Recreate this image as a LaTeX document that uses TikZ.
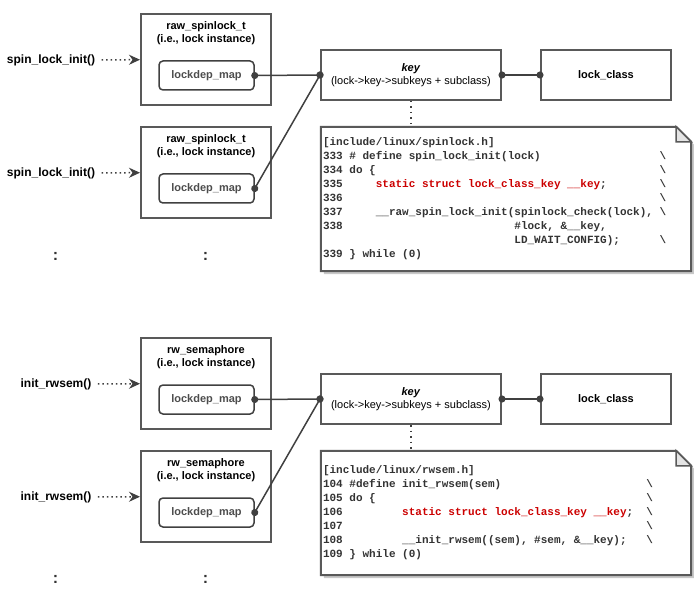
\documentclass[tikz,border=0pt]{standalone}
\usepackage{tikz}
\usetikzlibrary{arrows.meta}
\usetikzlibrary{calc}
\usetikzlibrary{backgrounds}
\usepackage{xcolor}
\usepackage{fontspec}
\setmainfont{Liberation Sans}
\newfontfamily\codefont{Liberation Mono}
\definecolor{boxgray}{RGB}{89,89,89}
\definecolor{linegray}{RGB}{64,64,64}
\definecolor{textgray}{RGB}{77,77,77}
\definecolor{codegray}{RGB}{51,51,51}
\definecolor{shadowgray}{RGB}{200,200,200}
\definecolor{foldgray}{RGB}{228,228,228}
\definecolor{keyred}{RGB}{204,0,0}
\newcommand{\blank}[1]{\hspace*{#1\fontcharwd\font`\x}}
\newcommand{\bs}{\textbackslash}
\newcommand{\hot}[1]{\textcolor{keyred}{#1}}
\newcommand{\fixspace}{\frenchspacing\spaceskip=\fontcharwd\font`\x\relax\xspaceskip=\spaceskip}

\begin{document}
\begin{tikzpicture}[x=1pt,y=-1pt,
	lockbox/.style={draw=boxgray,line width=2pt,minimum width=130pt,minimum height=91pt},
	title/.style={font=\fontsize{11}{13}\selectfont\bfseries,align=center,inner sep=0pt},
	mapbox/.style={draw=linegray,line width=1.5pt,rounded corners=4pt,minimum width=95pt,minimum height=29pt,text=textgray,font=\fontsize{11}{13}\selectfont\bfseries},
	keybox/.style={draw=boxgray,line width=2pt,minimum width=180pt,minimum height=50pt,align=center,font=\fontsize{11}{13}\selectfont},
	classbox/.style={draw=boxgray,line width=2pt,minimum width=130pt,minimum height=50pt,font=\fontsize{11}{13}\selectfont\bfseries},
	caller/.style={font=\fontsize{12}{14}\selectfont\bfseries},
	more/.style={font=\fontsize{16}{18}\selectfont\bfseries,text=codegray},
	codenote/.style={minimum width=370pt,minimum height=#1,text width=366pt,inner xsep=2pt,inner ysep=0pt,align=left,text=codegray,font=\codefont\fontsize{11}{14}\selectfont\bfseries},
	link/.style={linegray,line width=1.5pt,{Circle[length=7pt]}-{Circle[length=7pt]},shorten <=-3.5pt,shorten >=-3.5pt},
	calls/.style={linegray,line width=1.5pt,dash pattern=on 1.5pt off 3pt,shorten <=3pt,-{Stealth[length=11pt,width=10pt]}},
	refers/.style={linegray,line width=1.5pt,dash pattern=on 1.5pt off 4pt}]
	\useasboundingbox (0,0) rectangle (694,607);

	\node(init1) at (51,60)[caller]{spin\_lock\_init()};
	\node(lock1) at (206,59.5)[lockbox]{};
	\node(name1) at (206,33.5)[title]{raw\_spinlock\_t\\(i.e., lock instance)};
	\node(map1) at (206.5,75.5)[mapbox]{lockdep\_map};
	\node(init2) at (51,173)[caller]{spin\_lock\_init()};
	\node(lock2) at (206,172.5)[lockbox]{};
	\node(name2) at (206,146.5)[title]{raw\_spinlock\_t\\(i.e., lock instance)};
	\node(map2) at (206.5,188.5)[mapbox]{lockdep\_map};
	\node(more1) at (55.5,256)[more]{:};
	\node(more2) at (205.5,256)[more]{:};
	\node(key1) at (411,75)[keybox]{\textbf{\textit{key}}\\(lock->key->subkeys + subclass)};
	\node(class1) at (606,75)[classbox]{lock\_class};
	\node(note1) at (506,199)[codenote=144pt]{\fixspace[include/linux/spinlock.h]\\
		333 \# define spin\_lock\_init(lock)\blank{18}\bs\\
		334 do \{\blank{43}\bs\\
		335\blank{5}\hot{static struct lock\_class\_key \_\_key};\blank{8}\bs\\
		336\blank{48}\bs\\
		337\blank{5}\_\_raw\_spin\_lock\_init(spinlock\_check(lock),\blank{1}\bs\\
		338\blank{26}\#lock, \&\_\_key,\\
		\blank{29}LD\_WAIT\_CONFIG);\blank{6}\bs\\
		339 \} while (0)};

	\node(init3) at (56,384)[caller]{init\_rwsem()};
	\node(lock3) at (206,383.5)[lockbox]{};
	\node(name3) at (206,357.5)[title]{rw\_semaphore\\(i.e., lock instance)};
	\node(map3) at (206.5,399.5)[mapbox]{lockdep\_map};
	\node(init4) at (56,497)[caller]{init\_rwsem()};
	\node(lock4) at (206,496.5)[lockbox]{};
	\node(name4) at (206,470.5)[title]{rw\_semaphore\\(i.e., lock instance)};
	\node(map4) at (206.5,512.5)[mapbox]{lockdep\_map};
	\node(more3) at (55.5,579)[more]{:};
	\node(more4) at (205.5,579)[more]{:};
	\node(key2) at (411,399)[keybox]{\textbf{\textit{key}}\\(lock->key->subkeys + subclass)};
	\node(class2) at (606,399)[classbox]{lock\_class};
	\node(note2) at (506,513)[codenote=124pt]{\fixspace[include/linux/rwsem.h]\\
		104 \#define init\_rwsem(sem)\blank{22}\bs\\
		105 do \{\blank{41}\bs\\
		106\blank{9}\hot{static struct lock\_class\_key \_\_key};\blank{2}\bs\\
		107\blank{46}\bs\\
		108\blank{9}\_\_init\_rwsem((sem), \#sem, \&\_\_key);\blank{3}\bs\\
		109 \} while (0)};

	\begin{scope}[on background layer]
		\foreach \n in {note1,note2}{
			\fill[shadowgray] ($(\n.south west)+(3,3)$) -- ($(\n.north west)+(3,3)$) -- ($(\n.north east)+(-12,3)$) -- ($(\n.north east)+(3,18)$) -- ($(\n.south east)+(3,3)$) -- cycle;
			\draw[boxgray,line width=2pt,fill=white,line join=miter] (\n.south west) -- (\n.north west) -- ($(\n.north east)+(-15,0)$) -- ($(\n.north east)+(0,15)$) -- (\n.south east) -- cycle;
			\draw[boxgray,line width=1.5pt,fill=foldgray,line join=miter] ($(\n.north east)+(-15,0)$) -- ($(\n.north east)+(-15,15)$) -- ($(\n.north east)+(0,15)$) -- cycle;
		}
	\end{scope}

	\draw[calls] (init1) -- (lock1);
	\draw[calls] (init2) -- (lock2);
	\draw[calls] (init3) -- (lock3);
	\draw[calls] (init4) -- (lock4);
	\draw[link] (map1.east) -- (key1.west);
	\draw[link] (map2.east) -- (key1.west);
	\draw[link] (key1.east) -- (class1.west);
	\draw[link] (map3.east) -- (key2.west);
	\draw[link] (map4.east) -- (key2.west);
	\draw[link] (key2.east) -- (class2.west);
	\draw[refers] (key1.south) -- (key1.south |- note1.north);
	\draw[refers] (key2.south) -- (key2.south |- note2.north);
\end{tikzpicture}
\end{document}
